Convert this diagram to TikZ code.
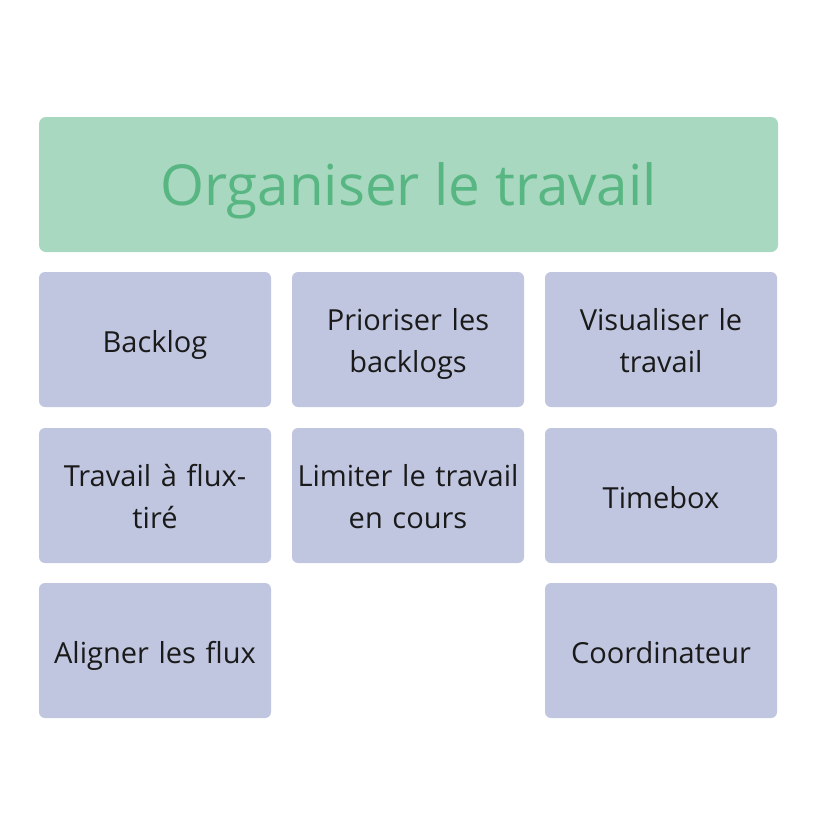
\documentclass[tikz,border=0pt]{standalone}
\usepackage{fontspec}
\setmainfont{Open Sans}
\definecolor{titlefill}{HTML}{A8D8C0}
\definecolor{titletext}{HTML}{58B683}
\definecolor{cellfill}{HTML}{C0C6E0}
\definecolor{celltext}{HTML}{1A1A1A}
\begin{document}
\begin{tikzpicture}[x=1pt,y=-1pt,
  cell/.style={fill=cellfill, rounded corners=6pt, minimum width=232pt, minimum height=135pt, inner sep=0pt},
  celltxt/.style={inner sep=0pt, text width=232pt, align=center, font=\fontsize{29}{42}\selectfont, text=celltext},
  titlebox/.style={fill=titlefill, rounded corners=7pt, minimum width=739pt, minimum height=135pt, inner sep=0pt},
  titletxt/.style={inner sep=0pt, font=\fontsize{56.5}{68}\selectfont, text=titletext}]
\useasboundingbox (0,0) rectangle (816,836);
\node[titlebox] (title) at (408.5,184.5) {};
\node[titletxt] (titlet) at (408.5,190.5) {Organiser le travail};
\node[cell] (backlog) at (155,339.5) {};
\node[cell] (prio) at (408,339.5) {};
\node[cell] (visu) at (661,339.5) {};
\node[cell] (flux) at (155,495.5) {};
\node[cell] (limit) at (408,495.5) {};
\node[cell] (timebox) at (661,495.5) {};
\node[cell] (align) at (155,650.5) {};
\node[cell] (coord) at (661,650.5) {};
\node[celltxt] (backlogt) at ([yshift=-5pt]backlog.center) {Backlog\strut};
\node[celltxt] (priot) at ([yshift=-4pt]prio.center) {\strut Prioriser les\\backlogs\strut};
\node[celltxt] (visut) at ([yshift=-4pt]visu.center) {\strut Visualiser le\\travail\strut};
\node[celltxt] (fluxt) at ([yshift=-4pt]flux.center) {\strut Travail à flux-\\tiré\strut};
\node[celltxt] (limitt) at ([yshift=-4pt]limit.center) {\strut Limiter le travail\\en cours\strut};
\node[celltxt] (timeboxt) at ([yshift=-5pt]timebox.center) {Timebox\strut};
\node[celltxt] (alignt) at ([yshift=-5pt]align.center) {Aligner les flux\strut};
\node[celltxt] (coordt) at ([yshift=-5pt]coord.center) {Coordinateur\strut};
\end{tikzpicture}
\end{document}
